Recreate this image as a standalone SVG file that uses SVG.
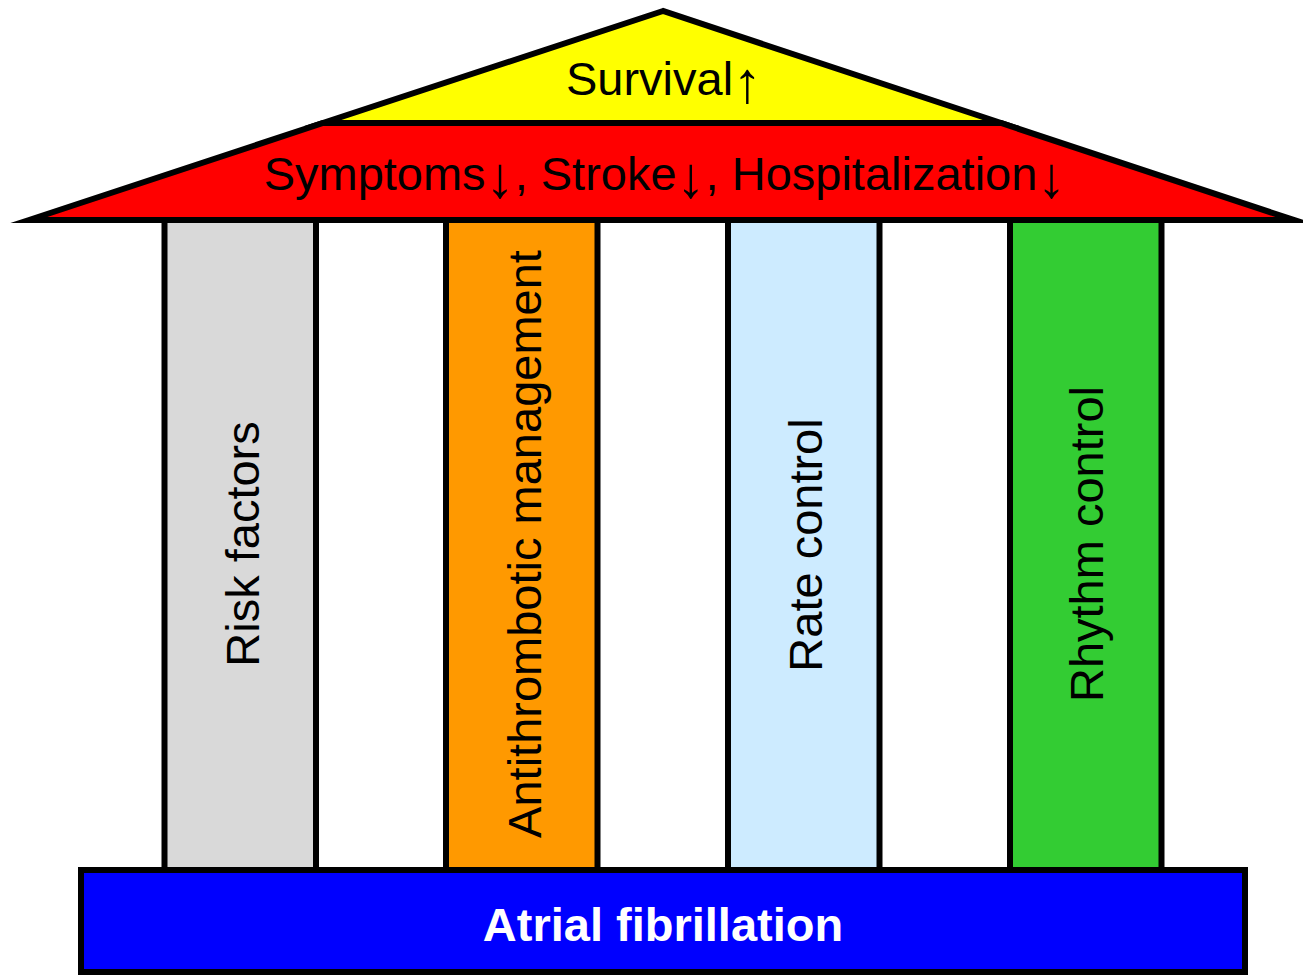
<svg xmlns="http://www.w3.org/2000/svg" width="1303" height="975" viewBox="0 0 1303 975">
<style>
.shape{stroke:#000;stroke-width:6;stroke-linejoin:miter;stroke-miterlimit:12}
.lbl{font-family:"Liberation Sans",Arial,sans-serif;font-size:47px;fill:#000}
.vl{text-anchor:middle}
.ar{font-size:58px}
</style>
<rect width="1303" height="975" fill="#fff"/>
<g id="pillar-risk"><rect class="shape" x="164.5" y="220" width="151.5" height="650" fill="#d9d9d9"/><text class="lbl vl" transform="translate(259,544) rotate(-90)">Risk factors</text></g>
<g id="pillar-antithrombotic"><rect class="shape" x="446" y="220" width="151.5" height="650" fill="#ff9900"/><text class="lbl vl" transform="translate(541,544) rotate(-90)">Antithrombotic management</text></g>
<g id="pillar-rate"><rect class="shape" x="728" y="220" width="151.5" height="650" fill="#cdebff"/><text class="lbl vl" transform="translate(822,545) rotate(-90)">Rate control</text></g>
<g id="pillar-rhythm"><rect class="shape" x="1010" y="220" width="151.5" height="650" fill="#33cc33"/><text class="lbl vl" transform="translate(1103,544) rotate(-90)">Rhythm control</text></g>
<g id="roof-outcomes"><polygon class="shape" points="29,220 323,123 1001,123 1294,220" fill="#ff0000"/><text class="lbl" x="665" y="190" text-anchor="middle">Symptoms<tspan class="ar" dy="7">↓</tspan><tspan dy="-7">, Stroke</tspan><tspan class="ar" dy="7">↓</tspan><tspan dy="-7">, Hospitalization</tspan><tspan class="ar" dy="7">↓</tspan></text></g>
<g id="roof-survival"><polygon class="shape" points="663,11 323,123 1001,123" fill="#ffff00"/><text class="lbl" x="664" y="95" text-anchor="middle">Survival<tspan class="ar" dy="7">↑</tspan></text></g>
<g id="base-af"><rect class="shape" x="81" y="870" width="1164" height="102" fill="#0000ff"/><text class="lbl" x="663" y="941" text-anchor="middle" font-weight="bold" style="fill:#fff">Atrial fibrillation</text></g>
<g id="connectors"/>
</svg>
